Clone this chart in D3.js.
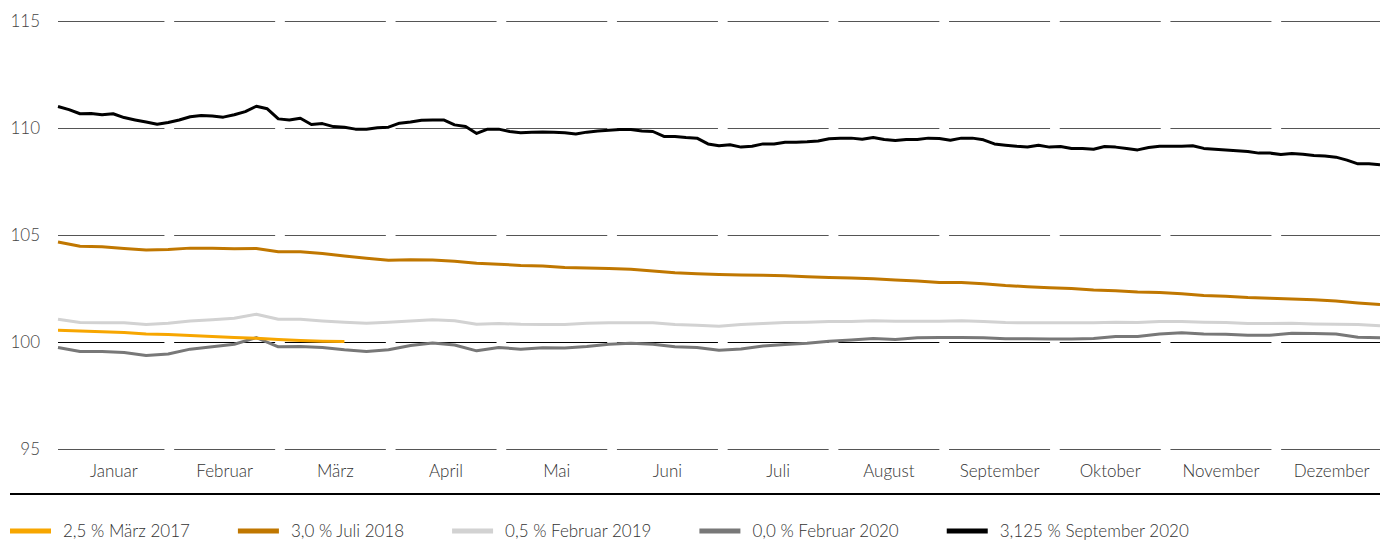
<!DOCTYPE html>
<html>
<head>
<meta charset="utf-8">
<script src="https://cdn.jsdelivr.net/npm/d3@7"></script>
<style>
	body { margin: 0; background: #fff; }
	text { font-family: Lato, "Open Sans", sans-serif; font-weight: 300; }
</style>
</head>
<body>
<script>
// months along the x axis
var months = ["Januar", "Februar", "März", "April", "Mai", "Juni", "Juli", "August", "September", "Oktober", "November", "Dezember"];
var yTicks = [95, 100, 105, 110, 115];

// prices, sampled every 1/5 month (black every 1/10 month)
var bond2017 = [100.57, 100.54, 100.50, 100.47, 100.40, 100.37, 100.33, 100.28, 100.23, 100.20, 100.14, 100.09, 100.06, 100.05];
var bond2018 = [104.70, 104.50, 104.47, 104.39, 104.32, 104.35, 104.41, 104.41, 104.38, 104.39,
	104.24, 104.24, 104.16, 104.04, 103.94, 103.84, 103.87, 103.85, 103.80, 103.70,
	103.66, 103.60, 103.57, 103.51, 103.48, 103.46, 103.42, 103.34, 103.26, 103.21,
	103.18, 103.15, 103.14, 103.12, 103.07, 103.04, 103.01, 102.98, 102.92, 102.87,
	102.80, 102.80, 102.75, 102.66, 102.61, 102.56, 102.52, 102.45, 102.42, 102.36,
	102.34, 102.28, 102.20, 102.16, 102.10, 102.07, 102.03, 102.00, 101.94, 101.85, 101.77];
var bond2019 = [101.09, 100.93, 100.92, 100.92, 100.84, 100.90, 101.01, 101.06, 101.13, 101.32,
	101.09, 101.09, 101.01, 100.95, 100.90, 100.95, 101.01, 101.06, 101.02, 100.85,
	100.89, 100.85, 100.84, 100.84, 100.90, 100.92, 100.92, 100.92, 100.84, 100.81,
	100.76, 100.84, 100.89, 100.93, 100.95, 100.98, 100.98, 101.02, 100.99, 100.99,
	100.99, 101.02, 100.98, 100.93, 100.92, 100.92, 100.92, 100.92, 100.95, 100.93,
	100.98, 100.98, 100.95, 100.93, 100.89, 100.89, 100.90, 100.87, 100.85, 100.84, 100.78];
var bond2020 = [99.77, 99.58, 99.58, 99.53, 99.39, 99.46, 99.69, 99.80, 99.92, 100.23,
	99.80, 99.81, 99.77, 99.66, 99.58, 99.66, 99.86, 99.98, 99.88, 99.61,
	99.77, 99.69, 99.75, 99.74, 99.81, 99.92, 99.97, 99.92, 99.80, 99.77,
	99.64, 99.70, 99.84, 99.91, 99.97, 100.06, 100.12, 100.19, 100.14, 100.22,
	100.23, 100.23, 100.22, 100.17, 100.17, 100.16, 100.16, 100.19, 100.28, 100.28,
	100.40, 100.45, 100.40, 100.39, 100.34, 100.34, 100.43, 100.42, 100.40, 100.25, 100.22];
var bond2020sep = [111.03, 110.88, 110.69, 110.70, 110.64, 110.69, 110.51, 110.40, 110.30, 110.20,
	110.28, 110.40, 110.55, 110.61, 110.58, 110.53, 110.64, 110.79, 111.04, 110.92,
	110.45, 110.40, 110.48, 110.19, 110.23, 110.09, 110.06, 109.97, 109.97, 110.03,
	110.06, 110.25, 110.30, 110.39, 110.40, 110.40, 110.17, 110.09, 109.77, 109.97,
	109.97, 109.86, 109.80, 109.83, 109.84, 109.83, 109.80, 109.74, 109.83, 109.88,
	109.92, 109.95, 109.95, 109.88, 109.86, 109.63, 109.63, 109.58, 109.55, 109.28,
	109.19, 109.24, 109.13, 109.17, 109.28, 109.28, 109.36, 109.36, 109.38, 109.42,
	109.52, 109.55, 109.55, 109.50, 109.58, 109.49, 109.44, 109.49, 109.49, 109.55,
	109.53, 109.45, 109.55, 109.55, 109.47, 109.28, 109.22, 109.17, 109.14, 109.22,
	109.13, 109.16, 109.07, 109.07, 109.03, 109.16, 109.13, 109.07, 109.00, 109.11,
	109.17, 109.17, 109.17, 109.19, 109.07, 109.03, 108.99, 108.96, 108.93, 108.85,
	108.85, 108.79, 108.83, 108.80, 108.74, 108.71, 108.66, 108.52, 108.35, 108.35, 108.31];

var seriesNames = ["2,5 % März 2017", "3,0 % Juli 2018", "0,5 % Februar 2019", "0,0 % Februar 2020", "3,125 % September 2020"];
var seriesValues = [bond2017, bond2018, bond2019, bond2020, bond2020sep];
var seriesSteps = [5, 5, 5, 5, 10]; // samples per month
var seriesColors = ["#f7a600", "#c07700", "#d2d2d2", "#787878", "#000000"];
var drawOrder = [2, 3, 1, 0, 4];

window.onload = function(){
	var width = 1380, height = 540;
	var svg = d3.select("body").append("svg")
		.attr("width", width)
		.attr("height", height);

	var x = d3.scaleLinear().domain([0, 12]).range([58, 1380]);
	var y = d3.scaleLinear().domain([95, 115]).range([449.5, 21.5]);
	var band = d3.scaleBand().domain(months).range([58.6, 1387])
		.paddingInner(0.0876).paddingOuter(0.0438);

	// grid: one segment per month and tick
	var grid = svg.append("g");
	yTicks.forEach(function(t){
		months.forEach(function(m, i){
			grid.append("line")
				.attr("x1", i === 0 ? 58 : band(m))
				.attr("x2", band(m) + band.bandwidth())
				.attr("y1", y(t))
				.attr("y2", y(t))
				.attr("stroke", t === 100 ? "#000" : "#555")
				.attr("stroke-width", 1);
		});
	});

	// y labels
	svg.append("g").selectAll("text")
		.data(yTicks)
		.enter()
		.append("text")
		.attr("x", 40)
		.attr("y", function(d){return y(d);})
		.attr("dy", "0.35em")
		.attr("text-anchor", "end")
		.attr("font-size", 17)
		.attr("fill", "#444")
		.text(function(d){return d;});

	// month labels
	svg.append("g").selectAll("text")
		.data(months)
		.enter()
		.append("text")
		.attr("x", function(d){return band(d) + band.bandwidth() / 2;})
		.attr("y", 477)
		.attr("text-anchor", "middle")
		.attr("font-size", 17)
		.attr("fill", "#333")
		.text(function(d){return d;});

	svg.append("line")
		.attr("x1", 10).attr("x2", 1380)
		.attr("y1", 494).attr("y2", 494)
		.attr("stroke", "#000")
		.attr("stroke-width", 2);

	// lines
	drawOrder.forEach(function(k){
		var step = seriesSteps[k];
		var line = d3.line()
			.x(function(d, i){return x(i / step);})
			.y(function(d){return y(d);});
		svg.append("path")
			.datum(seriesValues[k])
			.attr("d", line)
			.attr("fill", "none")
			.attr("stroke", seriesColors[k])
			.attr("stroke-width", 3)
			.attr("stroke-linejoin", "round");
	});

	// legend
	var legend = svg.append("g");
	var lx = 10;
	seriesNames.forEach(function(name, k){
		legend.append("rect")
			.attr("x", lx)
			.attr("y", 528.5)
			.attr("width", 41)
			.attr("height", 5)
			.attr("fill", seriesColors[k]);
		var t = legend.append("text")
			.attr("x", lx + 53)
			.attr("y", 531)
			.attr("dy", "0.35em")
			.attr("font-size", 17)
			.attr("fill", "#333")
			.text(name);
		lx = lx + 53 + t.node().getComputedTextLength() + 48;
	});
};
</script>
</body>
</html>
